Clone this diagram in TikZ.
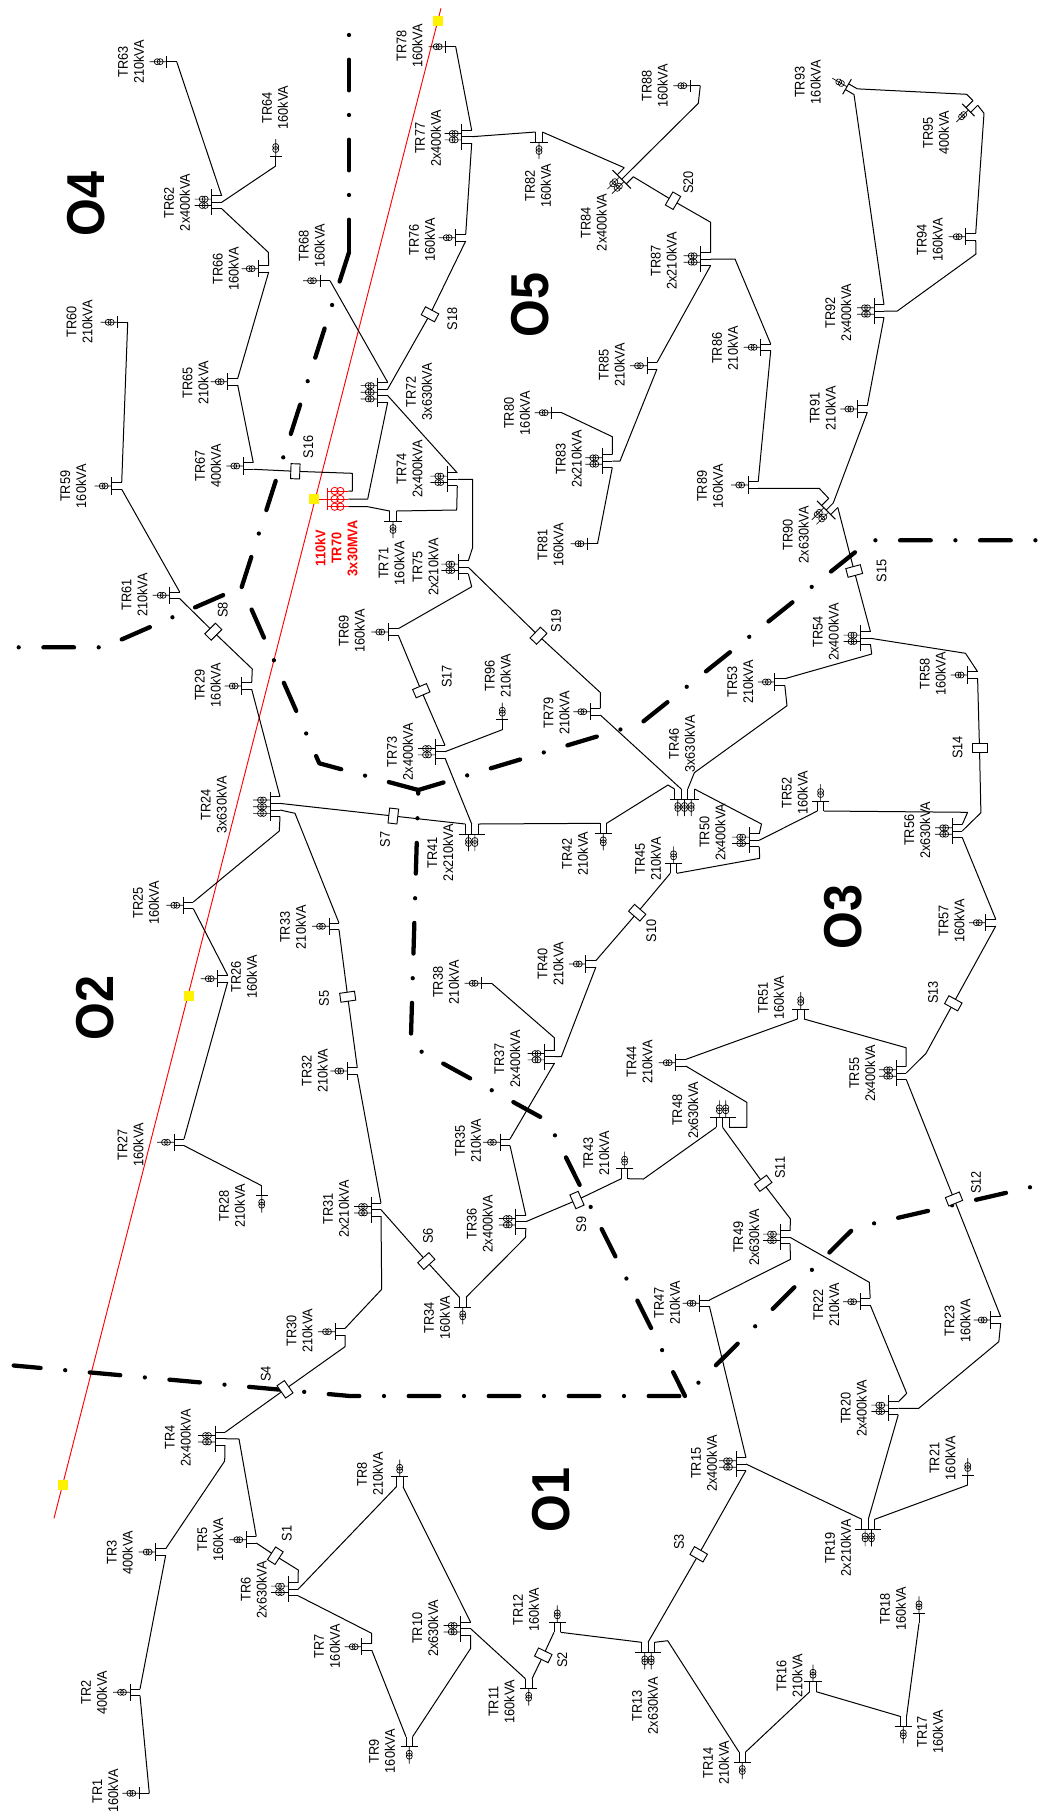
\documentclass[tikz,border=0pt]{standalone}
\usepackage{fontspec}
\setmainfont[FakeStretch=0.91]{Liberation Sans}
\usetikzlibrary{calc}
\tikzset{feeder/.style={line width=0.75pt,line join=round},
    bus/.style={line width=0.75pt},
    xfmr/.style={line width=0.5pt},
    border/.style={line width=3.2pt,line cap=round,line join=round,dash pattern=on 0pt off 18.5pt on 23pt off 18.5pt},
    sect/.style={draw,fill=white,line width=0.7pt,minimum width=6.75pt,minimum height=11.25pt,inner sep=0pt,outer sep=0pt},
    trtext/.style={rotate=90,align=center,inner sep=0pt,font=\fontsize{10.5}{12}\selectfont},
    region/.style={rotate=90,inner sep=0pt,font=\fontsize{40}{40}\selectfont\bfseries},
    marker/.style={fill=yellow,minimum size=7.5pt,inner sep=0pt}}
% one transformer on the axis of the station
\newcommand{\xf}[1]{\draw[xfmr] (-17,#1) -- (0,#1) (-9.5,#1) circle (3) (-6.5,#1) circle (3);}
% name, x, y, rotation, transformers (0 = end station), text x, text y, rating
\newcommand{\trafo}[8]{%
  \begin{scope}[shift={(#2,#3)},rotate=#4]
    \ifcase#5
      \draw[bus] (0,-6) -- (0,6);
      \draw[feeder] (0,0) -- (10,0) coordinate (#1a);
      \xf{0}
    \or
      \draw[bus] (0,-8.7) -- (0,8.7);
      \draw[feeder] (0,-3.3) -- (10,-3.3) coordinate (#1a) (0,3.3) -- (10,3.3) coordinate (#1b);
      \xf{0}
    \or
      \draw[bus] (0,-13) -- (0,13);
      \draw[feeder] (0,-6.4) -- (10,-6.4) coordinate (#1a) (0,0) -- (10,0) coordinate (#1b) (0,6.4) -- (10,6.4) coordinate (#1c);
      \xf{-3.2}\xf{3.2}
    \or
      \draw[bus] (0,-14.7) -- (0,14.7);
      \draw[feeder] (0,-10) -- (10,-10) coordinate (#1a) (0,-3.3) -- (10,-3.3) coordinate (#1b) (0,3.3) -- (10,3.3) coordinate (#1c) (0,10) -- (10,10) coordinate (#1d);
      \xf{-6.7}\xf{0}\xf{6.7}
    \fi
  \end{scope}
  \node[trtext] (#1t) at (#6,#7) {#1\\#8};
}
% name, x, y, rotation, text x, text y
\newcommand{\sectb}[6]{%
  \node[sect,rotate=#4] (#1) at (#2,#3) {};
  \node[trtext] (#1t) at (#5,#6) {#1};
}

\begin{document}
\begin{tikzpicture}[x=0.75pt,y=0.75pt,yscale=-1,xscale=1]
\useasboundingbox (0,0) rectangle (1049,1814);

%HV line
\coordinate (L0) at (441,8.3);
\coordinate (L1) at (54,1518.3);
\draw[red,line width=0.7pt] (L0) -- (L1);

%Area borders
\coordinate (J1) at (349,252.3);
\coordinate (J2) at (241.7,587);
\coordinate (J3) at (418.3,790);
\coordinate (J4) at (685,1396);
\draw[border] (349,35) -- (J1);
\draw[border,dash phase=18.5pt] (J1) -- (J2);
\draw[border] (18.7,647.3) -- (103.7,647.3) -- (J2);
\draw[border] (J2) -- (319.3,763.3) -- (J3);
\draw[border,dash phase=21.75pt] (J3) -- (641,723.3) -- (870,540.3) -- (1038,540.3);
\draw[border,dash phase=38.8pt] (J3) -- (410.7,1045.7) -- (547.8,1121) -- (J4);
\draw[border,dash phase=45.8pt] (J4) -- (854,1228) -- (1052,1182.2);
\draw[border,dash phase=14.25pt] (J4) -- (350,1396) -- (13.7,1365.5);

%Area names
\node[region] (O1) at (551.3,1500) {O1};
\node[region] (O2) at (95.5,1008.3) {O2};
\node[region] (O3) at (842.7,916.7) {O3};
\node[region] (O4) at (86,204) {O4};
\node[region] (O5) at (530,304.7) {O5};

%Stations
\trafo{TR1}{139.3}{1793.3}{0}{0}{105.5}{1791}{160kVA}
\trafo{TR2}{130}{1692.3}{0}{1}{94}{1692.7}{400kVA}
\trafo{TR3}{155.7}{1552}{0}{1}{119.7}{1552.7}{400kVA}
\trafo{TR4}{215}{1438.7}{0}{2}{178}{1437.5}{2x400kVA}
\trafo{TR5}{246.3}{1539.7}{0}{1}{210.5}{1539.5}{160kVA}
\trafo{TR6}{288}{1589.3}{0}{2}{253.7}{1589.7}{2x630kVA}
\trafo{TR7}{361.7}{1646.7}{0}{1}{327}{1646.3}{160kVA}
\trafo{TR8}{399.7}{1476.7}{90}{1}{370}{1474}{210kVA}
\trafo{TR9}{409.3}{1746.7}{-90}{1}{382}{1751.3}{160kVA}
\trafo{TR10}{460.7}{1628.7}{0}{2}{425.3}{1628.3}{2x630kVA}
\trafo{TR11}{528.7}{1688.7}{-90}{1}{501.5}{1701.7}{160kVA}
\trafo{TR12}{557.3}{1622.3}{90}{1}{526}{1609.5}{160kVA}
\trafo{TR13}{648}{1652.3}{-90}{2}{645}{1705.5}{2x630kVA}
\trafo{TR14}{742.3}{1762}{-90}{1}{716}{1762.5}{210kVA}
\trafo{TR15}{736}{1464}{0}{2}{704}{1463.3}{2x400kVA}
\trafo{TR16}{813}{1681.7}{90}{1}{789.5}{1675.5}{210kVA}
\trafo{TR17}{903.3}{1726.3}{-90}{1}{930}{1731.7}{160kVA}
\trafo{TR18}{919}{1613.3}{90}{0}{893}{1608.7}{160kVA}
\trafo{TR19}{868.3}{1529.3}{-90}{2}{838}{1547.5}{2x210kVA}
\trafo{TR20}{888.3}{1408.3}{0}{2}{853.7}{1408.3}{2x400kVA}
\trafo{TR21}{967.7}{1475}{90}{0}{942.5}{1458.3}{160kVA}
\trafo{TR22}{860.2}{1301.7}{0}{1}{826.4}{1304.5}{210kVA}
\trafo{TR23}{990.7}{1320}{0}{1}{957.6}{1321}{160kVA}
\trafo{TR24}{270}{806.7}{0}{3}{213.8}{805}{3x630kVA}
\trafo{TR25}{183.3}{905.3}{0}{1}{146}{903}{160kVA}
\trafo{TR26}{217.7}{978.7}{0}{1}{244}{976.7}{160kVA}
\trafo{TR27}{174}{1142.3}{0}{1}{130.5}{1144.7}{160kVA}
\trafo{TR28}{261.7}{1195.7}{-90}{0}{232}{1205.5}{210kVA}
\trafo{TR29}{241.7}{686}{0}{1}{207.8}{685.3}{160kVA}
\trafo{TR30}{335}{1331.7}{0}{1}{299.5}{1330.7}{210kVA}
\trafo{TR31}{371}{1209.7}{0}{2}{336}{1209}{2x210kVA}
\trafo{TR32}{347.3}{1071}{0}{1}{314.7}{1070.7}{210kVA}
\trafo{TR33}{329}{926.3}{0}{1}{293}{927.3}{210kVA}
\trafo{TR34}{462.7}{1307.3}{-90}{1}{437}{1317.7}{160kVA}
\trafo{TR35}{500}{1142.3}{0}{1}{468}{1140.7}{210kVA}
\trafo{TR36}{515.8}{1221.7}{0}{2}{479.7}{1223.7}{2x400kVA}
\trafo{TR37}{544.5}{1056.7}{0}{2}{507.4}{1058.7}{2x400kVA}
\trafo{TR38}{481.7}{983.3}{0}{0}{446}{982.3}{210kVA}
\trafo{TR40}{585.8}{964}{0}{1}{550.6}{963.7}{210kVA}
\trafo{TR41}{471.7}{834}{-90}{2}{440.3}{852.5}{2x210kVA}
\trafo{TR42}{603.3}{833.3}{-90}{1}{575.1}{853.7}{210kVA}
\trafo{TR43}{624.6}{1168.7}{90}{1}{596.3}{1153.3}{210kVA}
\trafo{TR44}{675.7}{1062.7}{0}{1}{639.5}{1062}{210kVA}
\trafo{TR45}{673.6}{863.3}{90}{1}{648.2}{859}{210kVA}
\trafo{TR46}{684.5}{799}{-90}{3}{682}{744}{3x630kVA}
\trafo{TR47}{699.5}{1303.3}{0}{1}{667.1}{1302.7}{210kVA}
\trafo{TR48}{722.6}{1117.3}{90}{2}{685.3}{1110.3}{2x630kVA}
\trafo{TR49}{780}{1237.3}{0}{2}{746.2}{1237.3}{2x630kVA}
\trafo{TR50}{749.2}{840.3}{0}{2}{712.6}{832.3}{2x400kVA}
\trafo{TR51}{800.7}{1009}{90}{1}{771.1}{997.7}{160kVA}
\trafo{TR52}{820.6}{801}{90}{1}{794.9}{792.5}{160kVA}
\trafo{TR53}{774.8}{682}{0}{1}{740.3}{682}{210kVA}
\trafo{TR54}{860.5}{638.3}{0}{2}{825.9}{632}{2x400kVA}
\trafo{TR55}{896.2}{1073}{0}{2}{862.4}{1073.3}{2x400kVA}
\trafo{TR56}{952.2}{831}{0}{2}{917.4}{830.3}{2x630kVA}
\trafo{TR57}{985.8}{922.7}{0}{1}{951.5}{921}{160kVA}
\trafo{TR58}{967.6}{675}{0}{1}{932.8}{674}{160kVA}
\trafo{TR59}{111.7}{486}{0}{1}{73.3}{486.3}{160kVA}
\trafo{TR60}{117.7}{322.3}{0}{0}{79.5}{321.8}{210kVA}
\trafo{TR61}{169.7}{595.3}{0}{1}{134.5}{595}{210kVA}
\trafo{TR62}{211.7}{202.3}{0}{2}{177}{202.5}{2x400kVA}
\trafo{TR63}{166.7}{61.7}{0}{0}{131}{62}{210kVA}
\trafo{TR64}{275.7}{156}{90}{0}{275}{107.5}{160kVA}
\trafo{TR65}{227.7}{381.7}{0}{1}{195.5}{382.7}{210kVA}
\trafo{TR66}{258.7}{268.7}{0}{1}{225.8}{269}{160kVA}
\trafo{TR67}{243.3}{466}{0}{1}{208}{466}{400kVA}
\trafo{TR68}{320}{280.7}{0}{0}{311.7}{245.5}{160kVA}
\trafo{TR69}{388.3}{632}{0}{1}{351.7}{631}{160kVA}
\trafo{TR71}{393}{521}{-90}{1}{391.7}{563.3}{160kVA}
\trafo{TR72}{377.7}{392.3}{0}{3}{419}{391.7}{3x630kVA}
\trafo{TR73}{435}{751.7}{0}{2}{400}{751.7}{2x400kVA}
\trafo{TR74}{447.3}{479.3}{0}{2}{409.5}{468.8}{2x400kVA}
\trafo{TR75}{458.3}{567.3}{0}{2}{425.5}{567}{2x210kVA}
\trafo{TR76}{455.7}{237.7}{0}{1}{422}{240}{160kVA}
\trafo{TR77}{461.7}{136.7}{0}{2}{428}{138.3}{2x400kVA}
\trafo{TR78}{445.7}{46.7}{0}{0}{409.5}{45.8}{160kVA}
\trafo{TR79}{590.3}{711.7}{0}{1}{556.5}{713}{210kVA}
\trafo{TR80}{551.7}{412.7}{0}{0}{517}{413.3}{160kVA}
\trafo{TR81}{587.5}{543.7}{0}{0}{550.6}{545}{160kVA}
\trafo{TR82}{539}{142}{-90}{1}{538}{185.7}{160kVA}
\trafo{TR83}{602.3}{461}{0}{2}{568.8}{459}{2x210kVA}
\trafo{TR84}{621.7}{179.3}{-45}{2}{593.8}{222.5}{2x400kVA}
\trafo{TR85}{647}{365.7}{0}{1}{611.7}{365}{210kVA}
\trafo{TR86}{760.7}{347.3}{0}{1}{725}{348.3}{210kVA}
\trafo{TR87}{700.7}{259}{0}{2}{663.7}{261}{2x210kVA}
\trafo{TR88}{690.3}{85.7}{0}{0}{654.7}{86}{160kVA}
\trafo{TR89}{748.2}{485}{0}{1}{710}{486.3}{160kVA}
\trafo{TR90}{826.2}{510}{-45}{2}{795.8}{534.7}{2x630kVA}
\trafo{TR91}{857.3}{409}{0}{1}{822.8}{408.3}{210kVA}
\trafo{TR92}{874}{311}{0}{2}{838.3}{312.5}{2x400kVA}
\trafo{TR93}{847}{86.7}{30}{1}{807.8}{82.3}{160kVA}
\trafo{TR94}{965.7}{236.7}{0}{1}{929.7}{240}{160kVA}
\trafo{TR95}{968.3}{110}{-45}{1}{936}{132.5}{400kVA}
\trafo{TR96}{502.3}{719.7}{90}{0}{497.8}{675.5}{210kVA}

%Main station
\draw[red,bus] (327.7,488) -- (327.7,510);
\draw[red,feeder] (327.7,491) -- (348.3,491) coordinate (TR70a) (327.7,499) -- (348.3,499) coordinate (TR70b) (327.7,506.7) -- (348.3,506.7) coordinate (TR70c);
\foreach \yy in {491,499,506.7} {
  \draw[red,line width=0.6pt] (334.7,\yy) circle (3.7) (340.3,\yy) circle (3.7);
}
\node[trtext,text=red,font=\fontsize{10.5}{12}\selectfont\bfseries] (TR70t) at (336.3,548.3) {110kV\\TR70\\3x30MVA};

%Sectionalizers
\sectb{S1}{275.3}{1555.7}{-33}{286.7}{1533.3}
\sectb{S2}{543.3}{1655.3}{64}{562.3}{1660}
\sectb{S3}{698.7}{1554.3}{60}{679}{1541.7}
\sectb{S4}{285}{1389.3}{35}{265.7}{1374}
\sectb{S5}{347.7}{996.7}{-82}{324}{998.3}
\sectb{S6}{426.3}{1261}{-48}{428}{1236}
\sectb{S7}{393.3}{816}{-6.5}{385}{839.3}
\sectb{S8}{213.3}{631.7}{-45}{222.7}{610}
\sectb{S9}{577}{1200}{23.5}{581.2}{1224.3}
\sectb{S10}{637.2}{912.7}{49}{651.2}{930.7}
\sectb{S11}{763.2}{1183.3}{-53.5}{780}{1167.7}
\sectb{S12}{954}{1199}{-68}{976}{1182.3}
\sectb{S13}{953.3}{1003.3}{61}{933}{992.3}
\sectb{S14}{979.5}{748.3}{90}{957.5}{747.3}
\sectb{S15}{854.2}{571}{-75}{881.5}{571}
\sectb{S16}{295.3}{471.3}{-2}{308.3}{446.7}
\sectb{S17}{421.3}{690.7}{-67}{446.7}{676.5}
\sectb{S18}{430}{314.3}{62}{452.3}{319}
\sectb{S19}{538.5}{635.7}{-43.6}{556}{621}
\sectb{S20}{673}{200.7}{-30}{688.3}{182.3}

%Feeders O1
\draw[feeder] (TR1a) -- (TR2b);
\draw[feeder] (TR2a) -- (TR3b);
\draw[feeder] (TR3a) -- (224.7,1461) -- (TR4c);
\draw[feeder] (TR4a) -- (S4) -- (345,1346.7) -- (TR30b);
\draw[feeder] (TR4b) -- (239,1439) -- (TR5a);
\draw[feeder] (TR5b) -- (S1) -- (298.3,1570) -- (TR6a);
\draw[feeder] (TR6b) -- (TR8b);
\draw[feeder] (TR6c) -- (371.7,1633.3) -- (TR7a);
\draw[feeder] (TR7b) -- (TR9a);
\draw[feeder] (TR9b) -- (470.7,1648.3) -- (TR10c);
\draw[feeder] (TR10a) -- (TR8a);
\draw[feeder] (TR10b) -- (TR11a);
\draw[feeder] (TR11b) -- (S2) -- (TR12b);
\draw[feeder] (TR12a) -- (TR13a);
\draw[feeder] (TR13b) -- (S3) -- (TR15c);
\draw[feeder] (TR13c) -- (667.7,1640.7) -- (TR14a);
\draw[feeder] (TR14b) -- (TR16b);
\draw[feeder] (TR16a) -- (TR17a);
\draw[feeder] (TR17b) -- (TR18a);
\draw[feeder] (TR15a) -- (TR47b);
\draw[feeder] (TR15b) -- (TR19a);
\draw[feeder] (TR19b) -- (TR20c);
\draw[feeder] (TR19c) -- (TR21a);
\draw[feeder] (TR20a) -- (906.7,1393.3) -- (TR22b);
\draw[feeder] (TR20b) -- (918.7,1408.3) -- (998.8,1341.7) -- (TR23b);
%Feeders O3
\draw[feeder] (TR22a) -- (869.3,1282.3) -- (TR49b);
\draw[feeder] (TR23a) -- (S12) -- (TR55c);
\draw[feeder] (TR47a) -- (790.5,1259.3) -- (TR49c);
\draw[feeder] (TR49a) -- (790.5,1219) -- (S11) -- (TR48b);
\draw[feeder] (TR48c) -- (643.5,1179) -- (TR43a);
\draw[feeder] (TR43b) -- (S9) -- (TR36b);
\draw[feeder] (TR36c) -- (525.6,1237.3) -- (TR34b);
\draw[feeder] (TR36a) -- (TR35b);
\draw[feeder] (TR35a) -- (TR37c);
\draw[feeder] (TR37b) -- (561.3,1056.7) -- (TR40b);
\draw[feeder] (TR40a) -- (S10) -- (TR45b);
\draw[feeder] (TR37a) -- (554.3,1037.7) -- (TR38a);
\draw[feeder] (TR44a) -- (TR51b);
\draw[feeder] (TR51a) -- (906,1047.7) -- (TR55a);
\draw[feeder] (TR44b) -- (746.8,1102.3) -- (746.8,1127.3) -- (TR48a);
\draw[feeder] (TR55b) -- (926,1053.3) -- (S13) -- (TR57b);
\draw[feeder] (TR57a) -- (TR56c);
\draw[feeder] (TR56a) -- (967.6,812.3) -- (TR52a);
\draw[feeder] (TR56b) -- (980.9,812.7) -- (S14) -- (TR58b);
\draw[feeder] (TR58a) -- (965.5,653.3) -- (TR54b);
\draw[feeder] (TR54a) -- (S15) -- (TR90c);
\draw[feeder] (TR54c) -- (871.7,654) -- (TR53a);
\draw[feeder] (TR53b) -- (787,705.7) -- (694.3,772.7) -- (TR46c);
\draw[feeder] (TR46d) -- (761.5,824) -- (TR50a);
\draw[feeder] (TR50b) -- (TR52b);
\draw[feeder] (TR50c) -- (759.7,858.3) -- (TR45a);
\draw[feeder] (TR42b) -- (668,785) -- (TR46a);
\draw[feeder] (TR41c) -- (TR42a);
\draw[feeder] (TR79a) -- (600.5,692.7) -- (S19) -- (TR75b);
\draw[feeder] (TR79b) -- (TR46b);
%Feeders O5
\draw[feeder] (TR89b) -- (819.2,488.3) -- (TR90a);
\draw[feeder] (TR89a) -- (TR86b);
\draw[feeder] (TR86a) -- (735,259) -- (TR87b);
\draw[feeder] (TR90b) -- (TR91b);
\draw[feeder] (TR81a) -- (TR83c);
\draw[feeder] (TR83b) -- (620,461) -- (TR85b);
\draw[feeder] (TR80a) -- (612.3,436.7) -- (TR83a);
\draw[feeder] (TR85a) -- (TR87c);
\draw[feeder] (TR84c) -- (S20) -- (710.7,222.3) -- (TR87a);
\draw[feeder] (TR82b) -- (TR84a);
\draw[feeder] (TR82a) -- (TR77b);
\draw[feeder] (TR77a) -- (TR78a);
\draw[feeder] (TR77c) -- (TR76a);
\draw[feeder] (TR76b) -- (S18) -- (TR72b);
\draw[feeder] (TR72a) -- (TR68a);
\draw[feeder] (TR72c) -- (TR74a);
\draw[feeder] (TR72d) -- (367.7,499) -- (TR70b);
\draw[feeder] (TR70c) -- (367.7,506.7) -- (TR71a);
\draw[feeder] (TR70a) -- (352.3,491) -- (352.3,473.3) -- (S16) -- (TR67b);
\draw[feeder] (TR74b) -- (472.7,479.3) -- (472.7,547.3) -- (TR75a);
\draw[feeder] (TR74c) -- (456.7,510) -- (TR71b);
\draw[feeder] (TR75c) -- (471.7,586.7) -- (TR69a);
\draw[feeder] (TR69b) -- (S17) -- (TR73a);
\draw[feeder] (TR73b) -- (TR96a);
\draw[feeder] (TR73c) -- (TR41b);
\draw[feeder] (TR88a) -- (698.3,103.3) -- (TR84b);
\draw[feeder] (TR92a) -- (TR93b);
\draw[feeder] (TR92b) -- (897.3,311) -- (976,254) -- (TR94b);
\draw[feeder] (TR92c) -- (TR91a);
\draw[feeder] (TR93a) -- (966.7,94.3) -- (TR95a);
\draw[feeder] (TR95b) -- (984,113.3) -- (TR94a);
%Feeders O2
\draw[feeder] (TR24a) -- (TR29b);
\draw[feeder] (TR24b) -- (S7) -- (TR41a);
\draw[feeder] (TR24c) -- (295,813.3) -- (TR33a);
\draw[feeder] (TR24d) -- (279.3,831) -- (TR25a);
\draw[feeder] (TR25b) -- (TR26a);
\draw[feeder] (TR26b) -- (TR27a);
\draw[feeder] (TR27b) -- (TR28a);
\draw[feeder] (TR33b) -- (S5) -- (TR32a);
\draw[feeder] (TR32b) -- (TR31a);
\draw[feeder] (TR31b) -- (S6) -- (TR34a);
\draw[feeder] (TR31c) -- (381.7,1289.3) -- (TR30a);
%Feeders O4
\draw[feeder] (TR29a) -- (252.3,669) -- (S8) -- (TR61b);
\draw[feeder] (TR61a) -- (TR59b);
\draw[feeder] (TR59a) -- (TR60a);
\draw[feeder] (TR65a) -- (TR66b);
\draw[feeder] (TR66a) -- (268.3,252.3) -- (TR62c);
\draw[feeder] (TR62a) -- (TR63a);
\draw[feeder] (TR62b) -- (TR64a);
\draw[feeder] (TR65b) -- (TR67a);

%HV line points
\node[marker] (Y1) at (438,20.7) {};
\node[marker] (Y2) at (314,499) {};
\node[marker] (Y3) at (188.7,996) {};
\node[marker] (Y4) at (62.7,1485) {};
\draw[red,line width=0.6pt] (Y2) -- (327.7,499);

\end{tikzpicture}
\end{document}
